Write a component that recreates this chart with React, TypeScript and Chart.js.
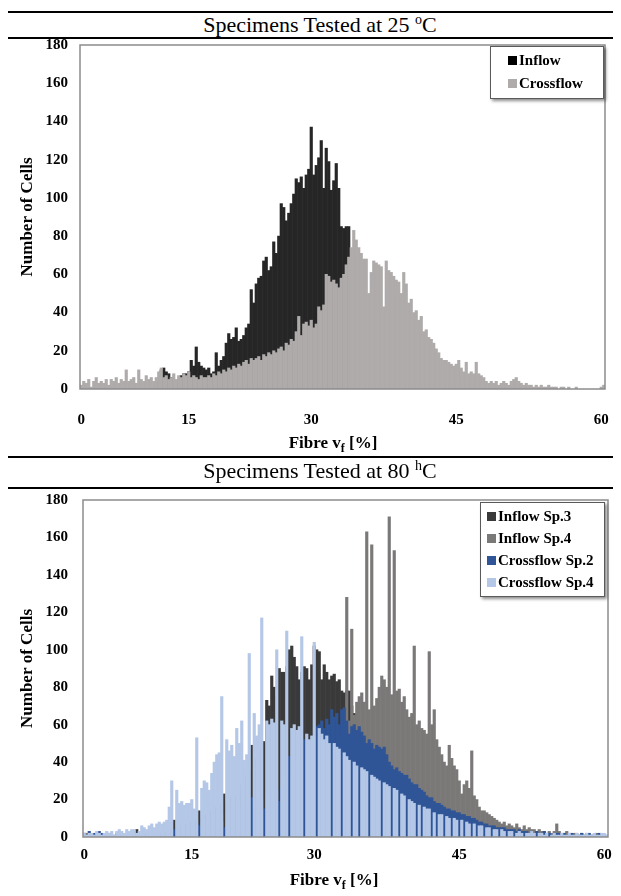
import React, { useEffect, useRef } from "react";
import { Chart, registerables } from "chart.js";
Chart.register(...registerables);

const FONT = "'Liberation Serif', 'Times New Roman', serif";

// 210 equal-width bins across the axis (category index)
const BIN_COUNT = 210;
const binLabels = Array.from({ length: BIN_COUNT }, (_, i) => String(i));
const xTickText = ["0", "15", "30", "45", "60"];
const xTickBin = [0, 43, 92, 150, 208];
const yTitle = "Number of Cells";

// ---- 25 °C ----
const inflow25 = [
  0,0,0,0,0,0,0,0,0,0,
  0,0,0,0,0,0,0,0,0,0,
  0,0,0,0,0,0,0,0,0,0,
  0,4,10,11,9,8,6,4,3,5,
  7,8,8,9,15,12,22,14,12,11,
  10,11,8,9,19,12,15,17,24,29,
  26,27,32,25,26,28,32,34,52,45,
  55,58,59,67,69,62,64,77,71,80,
  97,95,88,92,97,102,110,108,111,105,
  112,115,137,112,117,121,130,105,126,119,
  104,109,118,105,85,84,85,85,0,0,
  0,0,0,0,0,0,0,0,0,0,
  0,0,0,0,0,0,0,0,0,0,
  0,0,0,0,0,0,0,0,0,0,
  0,0,0,0,0,0,0,0,0,0,
  0,0,0,0,0,0,0,0,0,0,
  0,0,0,0,0,0,0,0,0,0,
  0,0,0,0,0,0,0,0,0,0,
  0,0,0,0,0,0,0,0,0,0,
  0,0,0,0,0,0,0,0,0,0,
  0,0,0,0,0,0,0,0,0,0,
];
const crossflow25 = [
  2,4,3,5,1,4,6,3,4,3,
  5,2,5,4,6,3,5,4,10,4,
  5,6,3,10,5,4,7,5,6,4,
  6,9,11,6,7,5,6,8,5,7,
  6,8,7,9,6,7,6,5,7,6,
  6,7,6,8,7,9,8,10,9,11,
  10,12,11,13,12,14,15,13,16,15,
  16,17,15,18,17,19,18,20,19,21,
  22,20,24,23,26,25,30,38,28,34,
  35,33,36,32,34,43,41,44,60,59,
  56,57,55,53,58,60,65,69,74,83,
  78,74,71,68,68,50,61,67,66,65,
  64,43,67,62,61,59,57,56,50,61,
  55,45,47,40,41,36,38,30,31,27,
  26,24,21,19,16,15,15,14,13,12,
  13,15,11,9,14,8,9,8,14,8,
  7,6,4,3,4,3,4,2,3,4,
  3,2,4,5,6,4,3,2,3,2,
  2,1,2,1,2,1,1,2,1,1,
  1,0,1,1,0,1,0,0,1,0,
  0,0,0,0,0,0,0,0,1,2,
];

// ---- 80 °C ----
const inflowSp3 = [
  2,1,2,0,0,0,0,0,0,0,
  0,0,0,0,0,0,0,0,0,0,
  0,4,0,0,0,0,0,0,0,0,
  2,2,3,3,4,4,9,5,5,6,
  6,7,7,8,8,9,14,10,11,12,
  13,14,15,16,17,18,23,19,20,21,
  20,22,25,28,30,33,36,49,40,42,
  45,48,51,73,70,86,80,75,90,88,
  88,91,100,102,96,91,84,88,91,90,
  84,92,102,100,99,84,92,88,84,86,
  87,83,84,78,77,78,78,70,66,57,
  55,52,48,45,42,40,38,35,32,30,
  28,26,24,22,20,18,17,16,15,14,
  13,12,11,10,9,9,8,8,7,7,
  6,6,5,5,5,4,4,4,3,3,
  3,3,2,2,2,2,2,1,1,1,
  1,1,1,0,0,0,0,0,0,0,
  0,0,0,0,0,0,0,0,0,0,
  0,0,0,0,0,0,0,0,0,0,
  0,0,0,0,0,0,0,0,0,0,
  0,0,0,0,0,0,0,0,0,0,
];
const inflowSp4 = [
  1,2,0,1,0,0,0,0,0,0,
  0,0,0,0,0,0,0,0,0,0,
  0,0,0,0,0,0,0,0,0,0,
  1,1,1,2,2,2,3,2,2,3,
  3,3,4,4,4,5,5,5,6,6,
  6,6,7,7,7,8,4,8,8,9,
  8,9,9,10,10,11,11,12,13,13,
  14,14,14,15,16,16,17,17,18,18,
  20,22,24,25,26,27,28,29,30,30,
  30,32,34,36,38,40,42,44,46,48,
  40,45,50,55,60,128,62,111,65,72,
  75,77,72,163,68,156,70,74,80,86,
  84,80,171,76,153,78,79,72,75,68,
  64,66,102,60,62,58,57,55,99,60,
  68,52,48,44,40,38,49,42,38,36,
  30,23,28,30,26,46,22,20,16,14,
  14,13,12,11,10,9,8,7,8,6,
  7,6,5,7,5,4,6,4,5,4,
  4,3,4,3,3,2,3,2,3,7,
  3,2,2,3,2,1,2,2,1,2,
  1,2,1,1,1,2,1,1,1,0,
];
const crossflowSp2 = [
  2,0,3,1,2,0,3,2,0,1,
  2,0,1,2,0,1,0,0,0,0,
  0,1,0,0,2,0,0,0,0,0,
  2,2,3,3,4,4,4,5,5,6,
  5,6,6,7,6,7,6,8,9,9,
  9,10,10,11,11,12,5,12,13,13,
  14,14,15,15,16,16,17,21,18,18,
  20,20,15,22,22,23,24,25,19,27,
  30,32,43,34,36,38,40,42,52,46,
  48,50,52,59,60,62,58,63,60,68,
  64,66,60,68,69,62,55,59,60,57,
  59,56,54,50,52,50,47,49,48,47,
  48,44,40,38,36,37,35,34,33,33,
  31,29,28,28,26,25,24,22,21,21,
  19,18,18,17,16,15,15,14,14,13,
  13,12,12,11,11,10,10,9,8,8,
  7,7,6,6,6,5,5,5,5,4,
  4,4,4,3,4,3,3,3,2,3,
  2,3,2,2,3,2,2,1,2,2,
  2,1,2,1,1,2,1,1,1,2,
  1,1,2,1,1,1,2,1,1,1,
];
const crossflowSp4 = [
  2,1,2,2,1,3,2,1,2,3,
  2,3,1,3,4,3,2,4,3,4,
  4,2,3,6,5,4,6,7,5,7,
  8,7,8,9,16,30,0,25,18,19,
  17,18,18,20,15,53,0,26,30,29,
  25,34,40,44,45,75,0,52,46,49,
  43,58,50,62,41,44,98,0,66,54,
  60,117,0,62,60,63,61,100,0,62,
  60,110,0,58,60,57,59,107,0,55,
  52,54,104,0,58,55,52,54,50,0,
  50,48,47,0,45,43,41,0,40,38,
  0,37,36,35,0,33,32,31,30,0,
  29,28,27,0,26,25,0,23,22,0,
  20,19,18,0,17,0,16,15,15,0,
  13,0,12,12,0,11,10,0,10,9,
  0,9,0,8,7,0,7,0,6,6,
  0,5,5,0,4,4,0,4,3,0,
  3,3,0,2,3,2,0,2,2,3,
  2,0,2,2,1,2,0,1,2,1,
  1,2,1,1,2,1,1,2,1,1,
  1,2,1,1,2,1,1,2,2,1,
];

type Series = { label: string; data: number[]; color: string; marker?: string };

const series25: Series[] = [
  { label: "Inflow", data: inflow25, color: "#262626", marker: "#000000" },
  { label: "Crossflow", data: crossflow25, color: "#afabab" },
];
const series80: Series[] = [
  { label: "Inflow Sp.3", data: inflowSp3, color: "#3a3a3a" },
  { label: "Inflow Sp.4", data: inflowSp4, color: "#7b7878" },
  { label: "Crossflow Sp.2", data: crossflowSp2, color: "#2f5597" },
  { label: "Crossflow Sp.4", data: crossflowSp4, color: "#b4c7e7" },
];

const framePlugin = {
  id: "frame",
  afterDatasetsDraw(chart: any) {
    const { ctx, chartArea: a } = chart;
    ctx.save();
    ctx.strokeStyle = "#8c8c8c";
    ctx.lineWidth = 1.5;
    ctx.strokeRect(a.left, a.top, a.right - a.left, a.bottom - a.top);
    ctx.restore();
  },
};

const W = 613;

function Histogram(props: {
  series: Series[];
  top: number; // page y of canvas
  height: number;
  plotLeft: number;
  plotTop: number;
  plotRight: number;
  plotBottom: number;
  xLabelPad: number;
}) {
  const ref = useRef<HTMLCanvasElement>(null);
  useEffect(() => {
    const p = props;
    const tickFont = { family: FONT, size: 15, weight: "bold" as const };
    const chart = new Chart(ref.current as HTMLCanvasElement, {
      type: "bar",
      data: {
        labels: binLabels,
        datasets: p.series.map((s, i) => ({
          label: s.label,
          data: s.data.map((v) => (v === 0 ? null : v)),
          backgroundColor: s.color,
          borderWidth: 0,
          grouped: false,
          barPercentage: 1,
          categoryPercentage: 1,
          order: p.series.length - i,
        })) as any,
      },
      options: {
        responsive: false,
        animation: false,
        devicePixelRatio: 1,
        events: [],
        layout: {
          padding: {
            left: 0,
            top: p.plotTop - p.top,
            right: W - (p.plotRight - 8),
            bottom: 0,
          },
        },
        plugins: { legend: { display: false }, tooltip: { enabled: false } },
        scales: {
          x: {
            type: "category",
            grid: { display: false, drawTicks: false, tickLength: 0 },
            border: { display: false },
            ticks: {
              autoSkip: false,
              maxRotation: 0,
              minRotation: 0,
              padding: p.xLabelPad,
              font: tickFont,
              color: "#000",
              callback: (_v: any, i: number) => {
                const k = xTickBin.indexOf(i);
                return k >= 0 ? xTickText[k] : null;
              },
            },
            afterFit: (s: any) => {
              s.height = p.top + p.height - p.plotBottom;
              s.paddingLeft = 0;
              s.paddingRight = 0;
              s.paddingTop = 0;
              s.paddingBottom = 0;
            },
          },
          y: {
            min: 0,
            max: 180,
            grid: { display: false, drawTicks: false, tickLength: 0 },
            border: { display: false },
            ticks: {
              stepSize: 20,
              padding: p.plotLeft - 68,
              font: tickFont,
              color: "#000",
            },
            title: {
              display: true,
              text: yTitle,
              color: "#000",
              font: { family: FONT, size: 17, weight: "bold" },
              padding: { top: 9, bottom: 0 },
            },
            afterFit: (s: any) => {
              s.width = p.plotLeft - 8;
              s.paddingLeft = 0;
              s.paddingRight = 0;
              s.paddingTop = 0;
              s.paddingBottom = 0;
            },
          },
        },
      } as any,
      plugins: [framePlugin],
    });
    return () => chart.destroy();
  }, []);
  return (
    <canvas
      ref={ref}
      width={W}
      height={props.height}
      style={{ position: "absolute", left: 0, top: props.top - 8, width: W, height: props.height }}
    />
  );
}

function Legend(props: { series: Series[]; left: number; top: number; width: number; rowH: number; markerOffset: number }) {
  return (
    <div
      style={{
        position: "absolute",
        left: props.left - 8,
        top: props.top - 8,
        width: props.width,
        boxSizing: "border-box",
        border: "1px solid #5a5a5a",
        background: "#fff",
        boxShadow: "2px 2px 3px rgba(0,0,0,0.45)",
        padding: "2px 0 3px 0",
        fontFamily: FONT,
        fontWeight: "bold",
        fontSize: 15,
        color: "#000",
      }}
    >
      {props.series.map((s) => (
        <div key={s.label} style={{ height: props.rowH, lineHeight: props.rowH + "px", whiteSpace: "nowrap", paddingLeft: props.markerOffset }}>
          <span
            style={{
              display: "inline-block",
              width: 9,
              height: 9,
              background: s.marker || s.color,
              marginRight: 2,
              verticalAlign: "middle",
              position: "relative",
              top: -1,
            }}
          />
          {s.label}
        </div>
      ))}
    </div>
  );
}

function Rule({ y }: { y: number }) {
  return <div style={{ position: "absolute", left: 0, top: y - 8, width: W, height: 1.5, background: "#000" }} />;
}

function Title({ y, value, sup }: { y: number; value: string; sup: string }) {
  return (
    <div
      style={{
        position: "absolute",
        left: 12,
        width: 600,
        top: y - 8 - 13,
        height: 26,
        lineHeight: "26px",
        textAlign: "center",
        fontFamily: FONT,
        fontSize: 22,
        color: "#000",
        whiteSpace: "nowrap",
      }}
    >
      Specimens Tested at {value}{" "}
      <span style={{ fontSize: 14, position: "relative", top: -8 }}>{sup}</span>C
    </div>
  );
}

function XTitle({ y, cx }: { y: number; cx: number }) {
  return (
    <div
      style={{
        position: "absolute",
        left: cx - 8 - 100,
        width: 200,
        top: y - 8 - 11,
        height: 22,
        lineHeight: "22px",
        textAlign: "center",
        fontFamily: FONT,
        fontWeight: "bold",
        fontSize: 17,
        color: "#000",
        whiteSpace: "nowrap",
      }}
    >
      Fibre v<span style={{ fontSize: 12, position: "relative", top: 4 }}>f</span> [%]
    </div>
  );
}

export default function App() {
  return (
    <div style={{ position: "relative", width: W, height: 888, background: "#fff" }}>
      <Rule y={11} />
      <Title y={25} value="25" sup="o" />
      <Rule y={37} />
      <Histogram series={series25} top={38} height={417} plotLeft={80} plotTop={45} plotRight={605} plotBottom={389} xLabelPad={22} />
      <Legend series={series25} left={490} top={46} width={114} rowH={23} markerOffset={17} />
      <XTitle y={443} cx={333} />
      <Rule y={456} />
      <Title y={471} value="80" sup="h" />
      <Rule y={487} />
      <Histogram series={series80} top={489} height={407} plotLeft={83} plotTop={500} plotRight={608} plotBottom={837} xLabelPad={9} />
      <Legend series={series80} left={480} top={502} width={125} rowH={22} markerOffset={6} />
      <XTitle y={880} cx={334} />
    </div>
  );
}
